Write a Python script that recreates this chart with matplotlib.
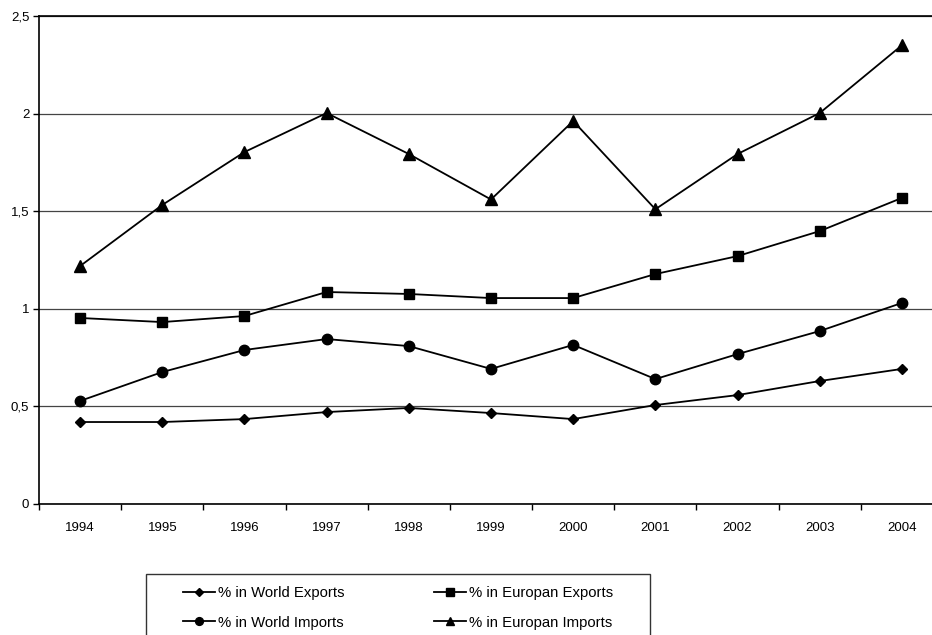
import numpy as np
import matplotlib.pyplot as plt
from matplotlib.patches import Rectangle
from matplotlib.ticker import FixedLocator, FuncFormatter

# data
years = ['1994', '1995', '1996', '1997', '1998', '1999', '2000', '2001', '2002', '2003', '2004']
world_exports = [0.42, 0.42, 0.435, 0.471, 0.492, 0.466, 0.435, 0.507, 0.558, 0.630, 0.692]
europan_exports = [0.953, 0.932, 0.963, 1.086, 1.076, 1.055, 1.055, 1.178, 1.270, 1.398, 1.568]
world_imports = [0.528, 0.676, 0.789, 0.845, 0.809, 0.692, 0.815, 0.640, 0.768, 0.886, 1.030]
europan_imports = [1.219, 1.532, 1.803, 2.003, 1.793, 1.560, 1.962, 1.510, 1.793, 2.003, 2.350]

plt.rcParams['font.family'] = ['Liberation Sans', 'DejaVu Sans']

fig = plt.figure(figsize=(9.32, 6.35), dpi=100)
W, H = 932.0, 635.0
# plot area: left 39px, top 16px, bottom 504px, right runs past the image edge (943px)
ax = fig.add_axes([39 / W, 1 - 504 / H, (943 - 39) / W, (504 - 16) / H])

x = np.arange(len(years))
ax.plot(x, world_exports, color='black', lw=1.3, marker='D', ms=5.5, label='% in World Exports')
ax.plot(x, europan_exports, color='black', lw=1.3, marker='s', ms=7, label='% in Europan Exports')
ax.plot(x, world_imports, color='black', lw=1.3, marker='o', ms=7.5, label='% in World Imports')
ax.plot(x, europan_imports, color='black', lw=1.3, marker='^', ms=8, label='% in Europan Imports')

ax.set_xlim(-0.5, len(years) - 0.5)
ax.set_ylim(0, 2.5)

# y axis with comma decimals
ax.set_yticks([0, 0.5, 1, 1.5, 2, 2.5])
ax.yaxis.set_major_formatter(FuncFormatter(lambda v, p: ('%g' % v).replace('.', ',')))
ax.yaxis.grid(True, color='#444444', lw=0.9)
ax.set_axisbelow(True)
ax.tick_params(axis='y', length=4, width=1, labelsize=9.5, pad=3)

# x axis: labels at category centres, tick marks between categories
ax.set_xticks(x)
ax.set_xticklabels(years)
ax.xaxis.set_minor_locator(FixedLocator(np.arange(-0.5, len(years), 1.0)))
ax.tick_params(axis='x', which='major', length=0, labelsize=9.5, pad=13)
ax.tick_params(axis='x', which='minor', length=4, width=1)

for side in ['left', 'bottom', 'top']:
    ax.spines[side].set_linewidth(1.2)
ax.spines['right'].set_visible(False)

# legend frame at bottom, running past the image edge
frame = Rectangle((146 / W, 1 - 650 / H), (650 - 146) / W, (650 - 574) / H,
                  transform=fig.transFigure, fill=False, edgecolor='#333333', lw=1.0)
fig.add_artist(frame)

handles, labels = ax.get_legend_handles_labels()
order = [0, 2, 1, 3]
leg = fig.legend([handles[i] for i in order], [labels[i] for i in order],
                 loc='upper left', bbox_to_anchor=(183 / W, 1 - 586 / H),
                 bbox_transform=fig.transFigure, ncol=2, fontsize=10.7,
                 frameon=False, borderpad=0, borderaxespad=0,
                 handlelength=2.15, handletextpad=0.2, columnspacing=6.0, labelspacing=1.05,
                 markerscale=0.75)

fig.savefig('out.png', dpi=100)
